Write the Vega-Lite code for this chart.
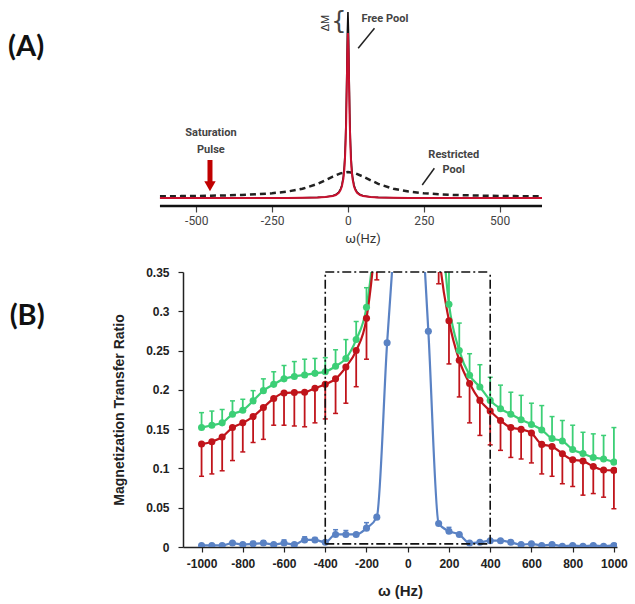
{
  "$schema": "https://vega.github.io/schema/vega-lite/v6.json",
  "padding": {"left": 8, "top": 6, "right": 5, "bottom": 5},
  "config": {"view": {"stroke": null}, "font": "Liberation Sans", "axis": {"labelOverlap": false, "labelBound": false}},
  "datasets": {
    "spectrum": [
      {"pool": "restricted", "hz": -620, "v": 9.7},
      {"pool": "restricted", "hz": -550, "v": 9.88},
      {"pool": "restricted", "hz": -500, "v": 10.06},
      {"pool": "restricted", "hz": -450, "v": 10.29},
      {"pool": "restricted", "hz": -400, "v": 10.61},
      {"pool": "restricted", "hz": -350, "v": 11.06},
      {"pool": "restricted", "hz": -300, "v": 11.73},
      {"pool": "restricted", "hz": -250, "v": 12.75},
      {"pool": "restricted", "hz": -200, "v": 14.4},
      {"pool": "restricted", "hz": -150, "v": 17.22},
      {"pool": "restricted", "hz": -100, "v": 22.11},
      {"pool": "restricted", "hz": -50, "v": 29.38},
      {"pool": "restricted", "hz": -25, "v": 32.66},
      {"pool": "restricted", "hz": 0, "v": 34},
      {"pool": "restricted", "hz": 25, "v": 32.66},
      {"pool": "restricted", "hz": 50, "v": 29.38},
      {"pool": "restricted", "hz": 100, "v": 22.11},
      {"pool": "restricted", "hz": 150, "v": 17.22},
      {"pool": "restricted", "hz": 200, "v": 14.4},
      {"pool": "restricted", "hz": 250, "v": 12.75},
      {"pool": "restricted", "hz": 300, "v": 11.73},
      {"pool": "restricted", "hz": 350, "v": 11.06},
      {"pool": "restricted", "hz": 400, "v": 10.61},
      {"pool": "restricted", "hz": 450, "v": 10.29},
      {"pool": "restricted", "hz": 500, "v": 10.06},
      {"pool": "restricted", "hz": 550, "v": 9.88},
      {"pool": "restricted", "hz": 640, "v": 9.66},

      {"pool": "free", "hz": -620, "v": 8.0},
      {"pool": "free", "hz": -500, "v": 8.02},
      {"pool": "free", "hz": -400, "v": 8.03},
      {"pool": "free", "hz": -300, "v": 8.06},
      {"pool": "free", "hz": -200, "v": 8.1},
      {"pool": "free", "hz": -150, "v": 8.25},
      {"pool": "free", "hz": -100, "v": 8.6},
      {"pool": "free", "hz": -75, "v": 9.0},
      {"pool": "free", "hz": -50, "v": 10.2},
      {"pool": "free", "hz": -40, "v": 11.4},
      {"pool": "free", "hz": -30, "v": 14.0},
      {"pool": "free", "hz": -25, "v": 16.5},
      {"pool": "free", "hz": -20, "v": 21.0},
      {"pool": "free", "hz": -15, "v": 29.9},
      {"pool": "free", "hz": -12, "v": 40.1},
      {"pool": "free", "hz": -10, "v": 50.9},
      {"pool": "free", "hz": -8, "v": 67.4},
      {"pool": "free", "hz": -6, "v": 92.5},
      {"pool": "free", "hz": -4, "v": 129.3},
      {"pool": "free", "hz": -2, "v": 172.1},
      {"pool": "free", "hz": 0, "v": 194},
      {"pool": "free", "hz": 2, "v": 172.1},
      {"pool": "free", "hz": 4, "v": 129.3},
      {"pool": "free", "hz": 6, "v": 92.5},
      {"pool": "free", "hz": 8, "v": 67.4},
      {"pool": "free", "hz": 10, "v": 50.9},
      {"pool": "free", "hz": 12, "v": 40.1},
      {"pool": "free", "hz": 15, "v": 29.9},
      {"pool": "free", "hz": 20, "v": 21.0},
      {"pool": "free", "hz": 25, "v": 16.5},
      {"pool": "free", "hz": 30, "v": 14.0},
      {"pool": "free", "hz": 40, "v": 11.4},
      {"pool": "free", "hz": 50, "v": 10.2},
      {"pool": "free", "hz": 75, "v": 9.0},
      {"pool": "free", "hz": 100, "v": 8.6},
      {"pool": "free", "hz": 150, "v": 8.25},
      {"pool": "free", "hz": 200, "v": 8.1},
      {"pool": "free", "hz": 300, "v": 8.06},
      {"pool": "free", "hz": 400, "v": 8.03},
      {"pool": "free", "hz": 500, "v": 8.02},
      {"pool": "free", "hz": 640, "v": 8.0},

      {"pool": "saturated", "hz": -620, "v": 8.0},
      {"pool": "saturated", "hz": -500, "v": 8.02},
      {"pool": "saturated", "hz": -400, "v": 8.03},
      {"pool": "saturated", "hz": -300, "v": 8.05},
      {"pool": "saturated", "hz": -200, "v": 8.1},
      {"pool": "saturated", "hz": -150, "v": 8.2},
      {"pool": "saturated", "hz": -100, "v": 8.5},
      {"pool": "saturated", "hz": -75, "v": 8.9},
      {"pool": "saturated", "hz": -50, "v": 9.96},
      {"pool": "saturated", "hz": -40, "v": 11.0},
      {"pool": "saturated", "hz": -30, "v": 13.3},
      {"pool": "saturated", "hz": -25, "v": 15.6},
      {"pool": "saturated", "hz": -20, "v": 19.5},
      {"pool": "saturated", "hz": -15, "v": 27.4},
      {"pool": "saturated", "hz": -12, "v": 36.4},
      {"pool": "saturated", "hz": -10, "v": 46.1},
      {"pool": "saturated", "hz": -8, "v": 60.7},
      {"pool": "saturated", "hz": -6, "v": 83.0},
      {"pool": "saturated", "hz": -4, "v": 115.6},
      {"pool": "saturated", "hz": -2, "v": 153.6},
      {"pool": "saturated", "hz": 0, "v": 173},
      {"pool": "saturated", "hz": 2, "v": 153.6},
      {"pool": "saturated", "hz": 4, "v": 115.6},
      {"pool": "saturated", "hz": 6, "v": 83.0},
      {"pool": "saturated", "hz": 8, "v": 60.7},
      {"pool": "saturated", "hz": 10, "v": 46.1},
      {"pool": "saturated", "hz": 12, "v": 36.4},
      {"pool": "saturated", "hz": 15, "v": 27.4},
      {"pool": "saturated", "hz": 20, "v": 19.5},
      {"pool": "saturated", "hz": 25, "v": 15.6},
      {"pool": "saturated", "hz": 30, "v": 13.3},
      {"pool": "saturated", "hz": 40, "v": 11.0},
      {"pool": "saturated", "hz": 50, "v": 9.96},
      {"pool": "saturated", "hz": 75, "v": 8.9},
      {"pool": "saturated", "hz": 100, "v": 8.5},
      {"pool": "saturated", "hz": 150, "v": 8.2},
      {"pool": "saturated", "hz": 200, "v": 8.1},
      {"pool": "saturated", "hz": 300, "v": 8.05},
      {"pool": "saturated", "hz": 400, "v": 8.03},
      {"pool": "saturated", "hz": 500, "v": 8.02},
      {"pool": "saturated", "hz": 640, "v": 8.0}
    ],
    "mtr": [
      {"s": "S1", "hz": -1000, "v": 0.152, "e": 0.171},
      {"s": "S1", "hz": -950, "v": 0.155, "e": 0.173},
      {"s": "S1", "hz": -900, "v": 0.158, "e": 0.175},
      {"s": "S1", "hz": -850, "v": 0.169, "e": 0.186},
      {"s": "S1", "hz": -800, "v": 0.174, "e": 0.188},
      {"s": "S1", "hz": -750, "v": 0.186, "e": 0.199},
      {"s": "S1", "hz": -700, "v": 0.199, "e": 0.214},
      {"s": "S1", "hz": -650, "v": 0.207, "e": 0.223},
      {"s": "S1", "hz": -600, "v": 0.214, "e": 0.231},
      {"s": "S1", "hz": -550, "v": 0.217, "e": 0.236},
      {"s": "S1", "hz": -500, "v": 0.219, "e": 0.239},
      {"s": "S1", "hz": -450, "v": 0.221, "e": 0.24},
      {"s": "S1", "hz": -400, "v": 0.223, "e": 0.241},
      {"s": "S1", "hz": -350, "v": 0.23, "e": 0.251},
      {"s": "S1", "hz": -300, "v": 0.24, "e": 0.264},
      {"s": "S1", "hz": -250, "v": 0.264, "e": 0.287},
      {"s": "S1", "hz": -200, "v": 0.305, "e": 0.33},
      {"s": "S1", "hz": -150, "v": 0.42, "e": 0.45},
      {"s": "S1", "hz": -100, "v": 0.6},
      {"s": "S1", "hz": -50, "v": 0.8},
      {"s": "S1", "hz": 0, "v": 1.0},
      {"s": "S1", "hz": 50, "v": 0.8},
      {"s": "S1", "hz": 100, "v": 0.62},
      {"s": "S1", "hz": 150, "v": 0.455, "e": 0.49},
      {"s": "S1", "hz": 200, "v": 0.309, "e": 0.355},
      {"s": "S1", "hz": 250, "v": 0.25, "e": 0.285},
      {"s": "S1", "hz": 300, "v": 0.2185, "e": 0.246},
      {"s": "S1", "hz": 350, "v": 0.2036, "e": 0.232},
      {"s": "S1", "hz": 400, "v": 0.1866, "e": 0.216},
      {"s": "S1", "hz": 450, "v": 0.176, "e": 0.206},
      {"s": "S1", "hz": 500, "v": 0.169, "e": 0.197},
      {"s": "S1", "hz": 550, "v": 0.162, "e": 0.193},
      {"s": "S1", "hz": 600, "v": 0.156, "e": 0.183},
      {"s": "S1", "hz": 650, "v": 0.149, "e": 0.18},
      {"s": "S1", "hz": 700, "v": 0.138, "e": 0.166},
      {"s": "S1", "hz": 750, "v": 0.135, "e": 0.161},
      {"s": "S1", "hz": 800, "v": 0.124, "e": 0.155},
      {"s": "S1", "hz": 850, "v": 0.119, "e": 0.146},
      {"s": "S1", "hz": 900, "v": 0.114, "e": 0.144},
      {"s": "S1", "hz": 950, "v": 0.112, "e": 0.142},
      {"s": "S1", "hz": 1000, "v": 0.108, "e": 0.152},

      {"s": "S2", "hz": -1000, "v": 0.131, "e": 0.09},
      {"s": "S2", "hz": -950, "v": 0.134, "e": 0.093},
      {"s": "S2", "hz": -900, "v": 0.14, "e": 0.097},
      {"s": "S2", "hz": -850, "v": 0.152, "e": 0.11},
      {"s": "S2", "hz": -800, "v": 0.158, "e": 0.121},
      {"s": "S2", "hz": -750, "v": 0.166, "e": 0.133},
      {"s": "S2", "hz": -700, "v": 0.1775, "e": 0.137},
      {"s": "S2", "hz": -650, "v": 0.189, "e": 0.155},
      {"s": "S2", "hz": -600, "v": 0.196, "e": 0.155},
      {"s": "S2", "hz": -550, "v": 0.1966, "e": 0.154},
      {"s": "S2", "hz": -500, "v": 0.197, "e": 0.153},
      {"s": "S2", "hz": -450, "v": 0.202, "e": 0.158},
      {"s": "S2", "hz": -400, "v": 0.207, "e": 0.163},
      {"s": "S2", "hz": -350, "v": 0.214, "e": 0.17},
      {"s": "S2", "hz": -300, "v": 0.229, "e": 0.183},
      {"s": "S2", "hz": -250, "v": 0.25, "e": 0.204},
      {"s": "S2", "hz": -200, "v": 0.291, "e": 0.239},
      {"s": "S2", "hz": -150, "v": 0.41, "e": 0.34},
      {"s": "S2", "hz": -100, "v": 0.6},
      {"s": "S2", "hz": -50, "v": 0.8},
      {"s": "S2", "hz": 0, "v": 1.0},
      {"s": "S2", "hz": 50, "v": 0.8},
      {"s": "S2", "hz": 100, "v": 0.6},
      {"s": "S2", "hz": 150, "v": 0.38, "e": 0.335},
      {"s": "S2", "hz": 200, "v": 0.288, "e": 0.233},
      {"s": "S2", "hz": 250, "v": 0.2376, "e": 0.191},
      {"s": "S2", "hz": 300, "v": 0.208, "e": 0.158},
      {"s": "S2", "hz": 350, "v": 0.1866, "e": 0.142},
      {"s": "S2", "hz": 400, "v": 0.173, "e": 0.13},
      {"s": "S2", "hz": 450, "v": 0.161, "e": 0.123},
      {"s": "S2", "hz": 500, "v": 0.152, "e": 0.114},
      {"s": "S2", "hz": 550, "v": 0.1497, "e": 0.112},
      {"s": "S2", "hz": 600, "v": 0.145, "e": 0.107},
      {"s": "S2", "hz": 650, "v": 0.1306, "e": 0.093},
      {"s": "S2", "hz": 700, "v": 0.128, "e": 0.09},
      {"s": "S2", "hz": 750, "v": 0.1187, "e": 0.0805},
      {"s": "S2", "hz": 800, "v": 0.111, "e": 0.077},
      {"s": "S2", "hz": 850, "v": 0.1093, "e": 0.066},
      {"s": "S2", "hz": 900, "v": 0.1025, "e": 0.068},
      {"s": "S2", "hz": 950, "v": 0.098, "e": 0.0634},
      {"s": "S2", "hz": 1000, "v": 0.0975, "e": 0.0487},

      {"s": "S3", "hz": -1000, "v": 0.002},
      {"s": "S3", "hz": -950, "v": 0.002},
      {"s": "S3", "hz": -900, "v": 0.002},
      {"s": "S3", "hz": -850, "v": 0.005},
      {"s": "S3", "hz": -800, "v": 0.003},
      {"s": "S3", "hz": -750, "v": 0.004, "e": 0.007},
      {"s": "S3", "hz": -700, "v": 0.005, "e": 0.008},
      {"s": "S3", "hz": -650, "v": 0.003},
      {"s": "S3", "hz": -600, "v": 0.005, "e": 0.009},
      {"s": "S3", "hz": -550, "v": 0.003},
      {"s": "S3", "hz": -500, "v": 0.009, "e": 0.013},
      {"s": "S3", "hz": -450, "v": 0.009, "e": 0.012},
      {"s": "S3", "hz": -400, "v": 0.006},
      {"s": "S3", "hz": -350, "v": 0.016, "e": 0.022},
      {"s": "S3", "hz": -300, "v": 0.016, "e": 0.021},
      {"s": "S3", "hz": -250, "v": 0.016},
      {"s": "S3", "hz": -200, "v": 0.024, "e": 0.031},
      {"s": "S3", "hz": -150, "v": 0.038},
      {"s": "S3", "hz": -100, "v": 0.26},
      {"s": "S3", "hz": -50, "v": 0.45},
      {"s": "S3", "hz": 0, "v": 0.6},
      {"s": "S3", "hz": 50, "v": 0.49},
      {"s": "S3", "hz": 100, "v": 0.2745},
      {"s": "S3", "hz": 150, "v": 0.03},
      {"s": "S3", "hz": 200, "v": 0.02, "e": 0.025},
      {"s": "S3", "hz": 250, "v": 0.016},
      {"s": "S3", "hz": 300, "v": 0.005},
      {"s": "S3", "hz": 350, "v": 0.006},
      {"s": "S3", "hz": 400, "v": 0.008},
      {"s": "S3", "hz": 450, "v": 0.008},
      {"s": "S3", "hz": 500, "v": 0.006},
      {"s": "S3", "hz": 550, "v": 0.003},
      {"s": "S3", "hz": 600, "v": 0.004},
      {"s": "S3", "hz": 650, "v": 0.002},
      {"s": "S3", "hz": 700, "v": 0.003},
      {"s": "S3", "hz": 750, "v": 0.001},
      {"s": "S3", "hz": 800, "v": 0.002},
      {"s": "S3", "hz": 850, "v": 0.001},
      {"s": "S3", "hz": 900, "v": 0.002},
      {"s": "S3", "hz": 950, "v": 0.001},
      {"s": "S3", "hz": 1000, "v": 0.002}
    ],
    "box": [
      {"hz": -400, "hz2": -400, "v": 0.004, "v2": 0.35},
      {"hz": 400, "hz2": 400, "v": 0.004, "v2": 0.35},
      {"hz": -400, "hz2": 400, "v": 0.35, "v2": 0.35},
      {"hz": -400, "hz2": 400, "v": 0.004, "v2": 0.004}
    ]
  },
  "vconcat": [
    {
      "width": 359,
      "height": 200,
      "layer": [
        {
          "data": {"name": "spectrum"},
          "transform": [{"filter": "datum.pool === 'restricted'"}],
          "mark": {"type": "line", "color": "#222", "strokeWidth": 2.5, "strokeDash": [6, 4]},
          "encoding": {
            "x": {"field": "hz", "type": "quantitative", "scale": {"domain": [-544, 640], "nice": false},
              "axis": {"values": [-500, -250, 0, 250, 500], "labelExpr": "'' + datum.value", "title": "ω(Hz)", "titleFontSize": 13, "titleFontWeight": "normal", "titleColor": "#333",
                "titleFont": "Roboto", "labelFont": "Roboto", "labelFontSize": 12, "labelColor": "#444", "domain": false,
                "tickColor": "#444", "tickSize": 6, "tickWidth": 1.2, "grid": false, "labelPadding": 3, "titlePadding": 6}},
            "y": {"field": "v", "type": "quantitative", "scale": {"domain": [0, 200], "nice": false}, "axis": null}
          }
        },
        {
          "data": {"name": "spectrum"},
          "transform": [{"filter": "datum.pool === 'free'"}],
          "mark": {"type": "line", "color": "#111", "strokeWidth": 1.6},
          "encoding": {
            "x": {"field": "hz", "type": "quantitative"},
            "y": {"field": "v", "type": "quantitative"}
          }
        },
        {
          "data": {"name": "spectrum"},
          "transform": [{"filter": "datum.pool === 'saturated'"}],
          "mark": {"type": "line", "color": "#c8102e", "strokeWidth": 2},
          "encoding": {
            "x": {"field": "hz", "type": "quantitative"},
            "y": {"field": "v", "type": "quantitative"}
          }
        },
        {
          "data": {"values": [{}]},
          "mark": {"type": "rule", "color": "#111", "strokeWidth": 2.5},
          "encoding": {"x": {"datum": -620}, "x2": {"datum": 640}, "y": {"datum": 0}}
        },
        {
          "data": {"values": [{}]},
          "mark": {"type": "text", "text": "(A)", "font": "Lato", "fontSize": 29, "fontWeight": "bold", "align": "left", "baseline": "middle", "color": "#111"},
          "encoding": {"x": {"datum": -1121}, "y": {"datum": 159}}
        },
        {
          "data": {"values": [{}]},
          "mark": {"type": "text", "text": ["Saturation", "Pulse"], "lineHeight": 17, "font": "Roboto", "fontSize": 11, "fontWeight": "bold", "align": "center", "baseline": "top", "color": "#444"},
          "encoding": {"x": {"datum": -452}, "y": {"datum": 79}}
        },
        {
          "data": {"values": [{}]},
          "mark": {"type": "rule", "color": "#c00000", "strokeWidth": 5},
          "encoding": {"x": {"datum": -455}, "y": {"datum": 46}, "y2": {"datum": 23}}
        },
        {
          "data": {"values": [{}]},
          "mark": {"type": "point", "shape": "triangle-down", "filled": true, "color": "#c00000", "opacity": 1, "size": 130},
          "encoding": {"x": {"datum": -455}, "y": {"datum": 19.7}}
        },
        {
          "data": {"values": [{}]},
          "mark": {"type": "text", "text": ["Restricted", "Pool"], "lineHeight": 15, "font": "Roboto", "fontSize": 11, "fontWeight": "bold", "align": "center", "baseline": "top", "color": "#444"},
          "encoding": {"x": {"datum": 349}, "y": {"datum": 57}}
        },
        {
          "data": {"values": [{}]},
          "mark": {"type": "rule", "color": "#222", "strokeWidth": 1.5},
          "encoding": {"x": {"datum": 285}, "y": {"datum": 37.7}, "x2": {"datum": 245}, "y2": {"datum": 21}}
        },
        {
          "data": {"values": [{}]},
          "mark": {"type": "text", "text": "Free Pool", "font": "Roboto", "fontSize": 11, "fontWeight": "bold", "align": "center", "baseline": "middle", "color": "#444"},
          "encoding": {"x": {"datum": 122}, "y": {"datum": 187}}
        },
        {
          "data": {"values": [{}]},
          "mark": {"type": "rule", "color": "#222", "strokeWidth": 1.5},
          "encoding": {"x": {"datum": 87.5}, "y": {"datum": 177.7}, "x2": {"datum": 33.7}, "y2": {"datum": 157.7}}
        },
        {
          "data": {"values": [{}]},
          "mark": {"type": "text", "text": "ΔM", "font": "Liberation Sans", "fontSize": 11, "angle": 270, "align": "center", "baseline": "middle", "color": "#333"},
          "encoding": {"x": {"datum": -72}, "y": {"datum": 183}}
        },
        {
          "data": {"values": [{}]},
          "mark": {"type": "text", "text": "{", "font": "DejaVu Sans", "fontSize": 24, "fontWeight": "normal", "align": "center", "baseline": "middle", "color": "#444"},
          "encoding": {"x": {"datum": -30}, "y": {"datum": 184}}
        }
      ]
    },
    {
      "width": 434,
      "height": 275,
      "title": {"text": "(B)", "anchor": "start", "frame": "bounds", "font": "Lato", "fontSize": 29, "fontWeight": "bold", "color": "#111", "offset": 0, "dx": -103, "dy": 65},
      "data": {"name": "mtr"},
      "encoding": {
        "x": {"field": "hz", "type": "quantitative", "scale": {"domain": [-1090, 1015], "nice": false},
          "axis": {"values": [-1000, -800, -600, -400, -200, 0, 200, 400, 600, 800, 1000], "labelExpr": "'' + datum.value", "title": "ω (Hz)", "titleFontSize": 15, "titleFontWeight": "bold", "titleColor": "#222",
            "labelFontSize": 12, "labelFontWeight": "bold", "labelColor": "#222", "domainColor": "#222", "domainWidth": 1.5, "tickColor": "#222", "tickSize": 5, "tickWidth": 1.2,
            "grid": false, "labelOverlap": false, "labelPadding": 6, "titlePadding": 14}},
        "y": {"field": "v", "type": "quantitative", "scale": {"domain": [0, 0.35], "nice": false},
          "axis": {"values": [0, 0.05, 0.1, 0.15, 0.2, 0.25, 0.3, 0.35], "format": ".2~f", "title": "Magnetization Transfer Ratio", "titleFontSize": 14, "titleFontWeight": "bold", "titleColor": "#222",
            "labelFontSize": 12, "labelFontWeight": "bold", "labelColor": "#222", "domainColor": "#222", "domainWidth": 1.5, "tickColor": "#222", "tickSize": 5, "tickWidth": 1.2,
            "grid": false, "labelOverlap": false, "labelPadding": 9, "titlePadding": 19}},
        "color": {"field": "s", "type": "nominal", "scale": {"domain": ["S1", "S2", "S3"], "range": ["#3ccf76", "#c0141b", "#5a82c4"]}, "legend": null}
      },
      "layer": [
        {
          "mark": {"type": "line", "strokeWidth": 2.2, "interpolate": "monotone", "clip": true}
        },
        {
          "transform": [{"filter": "isValid(datum.e)"}],
          "mark": {"type": "rule", "strokeWidth": 1.8, "clip": true},
          "encoding": {"y2": {"field": "e"}}
        },
        {
          "transform": [{"filter": "isValid(datum.e)"}],
          "mark": {"type": "tick", "orient": "horizontal", "size": 5, "thickness": 1.5, "clip": true, "opacity": 1},
          "encoding": {"y": {"field": "e", "type": "quantitative", "axis": {"values": [0, 0.05, 0.1, 0.15, 0.2, 0.25, 0.3, 0.35], "format": ".2~f", "title": "Magnetization Transfer Ratio", "titleFontSize": 14, "titleFontWeight": "bold", "titleColor": "#222",
            "labelFontSize": 12, "labelFontWeight": "bold", "labelColor": "#222", "domainColor": "#222", "domainWidth": 1.5, "tickColor": "#222", "tickSize": 5, "tickWidth": 1.2,
            "grid": false, "labelOverlap": false, "labelPadding": 9, "titlePadding": 19}}}
        },
        {
          "mark": {"type": "point", "filled": true, "size": 50, "opacity": 1, "clip": true}
        },
        {
          "data": {"name": "box"},
          "mark": {"type": "rule", "color": "#111", "strokeWidth": 1.6, "strokeDash": [9, 3, 2, 3]},
          "encoding": {"x2": {"field": "hz2"}, "y2": {"field": "v2"}, "color": {"value": "#111"}}
        }
      ]
    }
  ],
  "spacing": 21
}
